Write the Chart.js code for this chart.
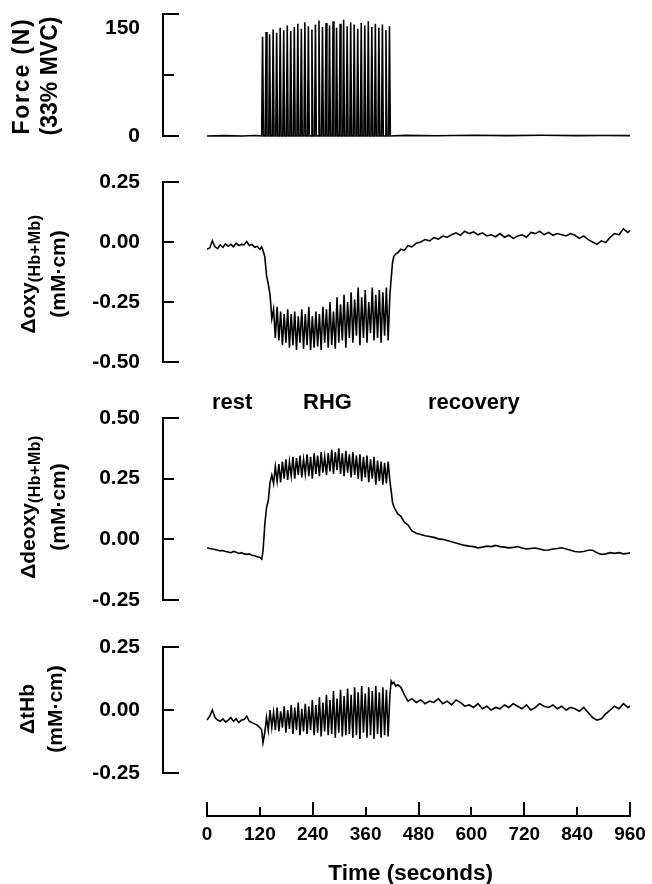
<!DOCTYPE html>
<html>
<head>
<meta charset="utf-8">
<script src="https://cdn.jsdelivr.net/npm/chart.js@4"></script>
<style>
  body { margin: 0; background: #fff; }
  #page { position: relative; width: 652px; height: 884px; overflow: hidden; font-family: "Liberation Sans", Arial, sans-serif; font-weight: bold; color: #000; }
  .panel { position: absolute; left: 0; width: 652px; }
  .ytitle { position: absolute; transform: translate(-50%, -50%) rotate(-90deg); white-space: nowrap; text-align: center; font-size: 21px; line-height: 30px; }
  .ytitle sub { font-size: 16px; vertical-align: -5px; line-height: 0; letter-spacing: 0.5px; }
  .note { position: absolute; font-size: 22px; line-height: 22px; }
</style>
</head>
<body>
<div id="page">
  <div class="panel" style="top:-30px;height:182px"><canvas id="force"></canvas></div>
  <div class="panel" style="top:160px;height:220px"><canvas id="oxy"></canvas></div>
  <div class="panel" style="top:396px;height:222px"><canvas id="deoxy"></canvas></div>
  <div class="panel" style="top:625px;height:166px"><canvas id="thb"></canvas></div>
  <div class="panel" style="top:790px;height:100px"><canvas id="axis"></canvas></div>

  <div class="ytitle" style="left:35px;top:76px;font-size:23px;line-height:28px"><span style="letter-spacing:1.8px">Force (N)</span><br>(33% MVC)</div>
  <div class="ytitle" style="left:43px;top:274px">&Delta;oxy<sub>(Hb+Mb)</sub><br>(mM·cm)</div>
  <div class="ytitle" style="left:43px;top:507px">&Delta;deoxy<sub>(Hb+Mb)</sub><br>(mM·cm)</div>
  <div class="ytitle" style="left:41px;top:709px;line-height:28px">&Delta;tHb<br>(mM·cm)</div>

  <div class="note" style="left:212px;top:391px">rest</div>
  <div class="note" style="left:303px;top:391px">RHG</div>
  <div class="note" style="left:428px;top:391px">recovery</div>
</div>
<script>
// force trace (N)
const forceTime = [
  0, 40, 80, 110,
  124, 126, 128, 132, 134, 136, 140, 142, 144, 148, 150, 152,
  156, 158, 160, 164, 166, 168, 172, 174, 176, 180, 182, 184,
  188, 190, 192, 196, 198, 200, 204, 206, 208, 212, 214, 216,
  220, 222, 224, 228, 230, 232, 236, 238, 240, 244, 246, 248,
  252, 254, 256, 260, 262, 264, 268, 270, 272, 276, 278, 280,
  284, 286, 288, 292, 294, 296, 300, 302, 304, 308, 310, 312,
  316, 318, 320, 324, 326, 328, 332, 334, 336, 340, 342, 344,
  348, 350, 352, 356, 358, 360, 364, 366, 368, 372, 374, 376,
  380, 382, 384, 388, 390, 392, 396, 398, 400, 404, 406, 408,
  412, 414, 416,
  450, 520, 600, 680, 760, 840, 900, 960
];
const forceValues = [
  0, 0.5, 0, 0.6,
  0, 122, 0, 0, 128, 0, 0, 125, 0, 0, 131, 0,
  0, 127, 0, 0, 133, 0, 0, 130, 0, 0, 136, 0,
  0, 129, 0, 0, 134, 0, 0, 138, 0, 0, 132, 0,
  0, 140, 0, 0, 135, 0, 0, 131, 0, 0, 137, 0,
  0, 142, 0, 0, 134, 0, 0, 139, 0, 0, 136, 0,
  0, 141, 0, 0, 133, 0, 0, 138, 0, 0, 143, 0,
  0, 135, 0, 0, 140, 0, 0, 137, 0, 0, 132, 0,
  0, 139, 0, 0, 136, 0, 0, 141, 0, 0, 134, 0,
  0, 138, 0, 0, 133, 0, 0, 137, 0, 0, 130, 0,
  0, 135, 0,
  0.8, 0.3, 1.0, 0.5, 0.9, 0.4, 0.7, 0.5
];

// NIRS sample times (s), shared by the three traces below
const nirsTime = [
  // rest
  0, 6, 12, 18, 24, 30, 36, 42, 48, 54, 60, 66, 72, 78, 84, 90, 96, 102, 108, 114, 120, 124,
  // onset
  127, 131, 135, 139, 143, 147,
  // handgrip
  151, 155, 159, 163, 167, 171, 175, 179, 183, 187,
  191, 195, 199, 203, 207, 211, 215, 219, 223, 227,
  231, 235, 239, 243, 247, 251, 255, 259, 263, 267,
  271, 275, 279, 283, 287, 291, 295, 299, 303, 307,
  311, 315, 319, 323, 327, 331, 335, 339, 343, 347,
  351, 355, 359, 363, 367, 371, 375, 379, 383, 387,
  391, 395, 399, 403, 407, 411, 415,
  // release
  418, 421, 424, 428, 433, 440, 448, 456, 465, 475,
  // recovery
  485, 495, 505, 515, 525, 535, 545, 555, 565, 575,
  585, 595, 605, 615, 625, 635, 645, 655, 665, 675,
  685, 695, 705, 715, 725, 735, 745, 755, 765, 775,
  785, 795, 805, 815, 825, 835, 845, 855, 865, 875,
  885, 895, 905, 915, 925, 935, 945, 955, 960
];

const oxyValues = [
  -0.030, -0.025, 0.005, -0.020, -0.028, -0.012, -0.022, -0.008, -0.018, -0.010, -0.020,
  -0.005, -0.015, -0.010, -0.012, 0.002, -0.015, -0.010, -0.022, -0.018, -0.030, -0.020,
  -0.035, -0.060, -0.140, -0.175, -0.220, -0.320,
  -0.280, -0.400, -0.270, -0.410, -0.290, -0.430, -0.300, -0.420, -0.280, -0.440,
  -0.300, -0.430, -0.290, -0.450, -0.310, -0.420, -0.280, -0.445, -0.300, -0.430,
  -0.270, -0.450, -0.310, -0.440, -0.290, -0.435, -0.300, -0.450, -0.270, -0.420,
  -0.280, -0.440, -0.250, -0.430, -0.290, -0.445, -0.230, -0.420, -0.260, -0.410,
  -0.220, -0.440, -0.250, -0.400, -0.210, -0.420, -0.240, -0.390, -0.190, -0.430,
  -0.230, -0.400, -0.200, -0.420, -0.250, -0.380, -0.190, -0.410, -0.220, -0.400,
  -0.200, -0.420, -0.210, -0.390, -0.190, -0.410, -0.220,
  -0.150, -0.085, -0.060, -0.050, -0.045, -0.030, -0.035, -0.015, -0.020, -0.005,
  0.000, 0.010, 0.005, 0.018, 0.012, 0.025, 0.020, 0.030, 0.038, 0.028,
  0.045, 0.035, 0.042, 0.030, 0.038, 0.025, 0.030, 0.022, 0.035, 0.020,
  0.028, 0.015, 0.025, 0.030, 0.020, 0.040, 0.035, 0.045, 0.030, 0.040,
  0.028, 0.035, 0.030, 0.025, 0.035, 0.028, 0.015, 0.025, 0.010, 0.000,
  -0.010, 0.005, -0.002, 0.020, 0.035, 0.030, 0.055, 0.040, 0.048
];

const deoxyValues = [
  -0.035, -0.038, -0.040, -0.042, -0.045, -0.048, -0.046, -0.050, -0.052, -0.055, -0.050,
  -0.053, -0.058, -0.055, -0.060, -0.062, -0.060, -0.066, -0.068, -0.072, -0.075, -0.082,
  -0.050, 0.060, 0.130, 0.160, 0.235, 0.265,
  0.230, 0.300, 0.240, 0.310, 0.235, 0.320, 0.250, 0.330, 0.245, 0.320,
  0.260, 0.340, 0.250, 0.335, 0.265, 0.345, 0.255, 0.330, 0.270, 0.350,
  0.260, 0.340, 0.250, 0.355, 0.270, 0.345, 0.260, 0.360, 0.275, 0.340,
  0.265, 0.355, 0.280, 0.370, 0.270, 0.360, 0.285, 0.375, 0.270, 0.355,
  0.260, 0.365, 0.275, 0.350, 0.255, 0.360, 0.265, 0.345, 0.250, 0.350,
  0.240, 0.340, 0.255, 0.345, 0.235, 0.330, 0.250, 0.340, 0.225, 0.325,
  0.240, 0.320, 0.225, 0.315, 0.230, 0.320, 0.240,
  0.200, 0.150, 0.135, 0.120, 0.105, 0.095, 0.070, 0.060, 0.035, 0.025,
  0.020, 0.015, 0.012, 0.008, 0.002, 0.000, -0.005, -0.010, -0.015, -0.020,
  -0.025, -0.028, -0.030, -0.035, -0.032, -0.028, -0.030, -0.025, -0.030, -0.032,
  -0.035, -0.033, -0.030, -0.036, -0.040, -0.038, -0.036, -0.040, -0.045, -0.044,
  -0.040, -0.038, -0.035, -0.040, -0.045, -0.050, -0.052, -0.050, -0.045, -0.045,
  -0.055, -0.062, -0.060, -0.055, -0.058, -0.055, -0.060, -0.058, -0.055
];

const thbValues = [
  -0.040, -0.025, 0.000, -0.030, -0.040, -0.045, -0.035, -0.048, -0.040, -0.030, -0.045,
  -0.035, -0.050, -0.040, -0.038, -0.025, -0.045, -0.050, -0.055, -0.060, -0.070, -0.080,
  -0.130, -0.090, -0.030, -0.080, 0.000, -0.070,
  -0.010, -0.080, 0.010, -0.085, -0.005, -0.070, 0.015, -0.090, 0.000, -0.075,
  0.020, -0.095, 0.010, -0.080, 0.030, -0.100, 0.005, -0.085, 0.025, -0.095,
  0.015, -0.080, 0.040, -0.100, 0.020, -0.090, 0.050, -0.105, 0.030, -0.085,
  0.060, -0.100, 0.040, -0.095, 0.075, -0.110, 0.045, -0.090, 0.080, -0.105,
  0.055, -0.100, 0.085, -0.095, 0.060, -0.110, 0.090, -0.100, 0.070, -0.115,
  0.095, -0.090, 0.065, -0.110, 0.090, -0.100, 0.075, -0.115, 0.095, -0.095,
  0.070, -0.110, 0.090, -0.100, 0.080, -0.105, 0.060,
  0.115, 0.105, 0.110, 0.095, 0.100, 0.090, 0.060, 0.035, 0.045, 0.030,
  0.040, 0.025, 0.035, 0.030, 0.045, 0.025, 0.035, 0.020, 0.040, 0.030,
  0.015, 0.020, 0.010, 0.025, 0.005, 0.015, 0.000, 0.010, 0.005, 0.020,
  0.010, 0.025, 0.015, 0.005, 0.020, 0.000, 0.010, 0.025, 0.015, 0.010,
  0.020, 0.005, 0.015, 0.000, 0.010, 0.005, -0.005, 0.010, -0.010, -0.030,
  -0.040, -0.035, -0.015, 0.000, 0.015, 0.005, 0.025, 0.010, 0.015
];

const timeTicks = [0, 120, 240, 360, 480, 600, 720, 840, 960];
const majorTimeTicks = [0, 240, 480, 720, 960];

const black = '#000';
const clear = 'rgba(0,0,0,0)';
const fam = 'Liberation Sans';

// short inward ticks: ends of each axis longer than the middle ones
function bracketDash(ctx) {
  if (!ctx.tick) return [];
  const s = ctx.scale, v = ctx.tick.value;
  const atEnd = Math.abs(v - s.min) < 1e-9 || Math.abs(v - s.max) < 1e-9;
  return atEnd ? [15, 2000] : [10, 2000];
}

function panel(id, times, values, yMin, yMax, step, pad, labelFn, lw, lineHeight) {
  const points = times.map((t, i) => ({ x: t, y: values[i] }));
  return new Chart(document.getElementById(id), {
    type: 'line',
    data: { datasets: [{ data: points, borderColor: black, borderWidth: lw, pointRadius: 0, tension: 0, clip: false }] },
    options: {
      responsive: true,
      maintainAspectRatio: false,
      animation: false,
      layout: { padding: { top: pad[0], bottom: pad[1], left: 0, right: 22 } },
      plugins: { legend: { display: false }, tooltip: { enabled: false } },
      scales: {
        x: { type: 'linear', min: -100, max: 960, display: false },
        y: {
          min: yMin,
          max: yMax,
          afterFit: s => { s.width = 163; },
          border: { display: true, color: black, width: 2, dash: bracketDash },
          // the outside tick marks are invisible, they only set the label gap
          grid: { drawTicks: true, tickLength: 23, tickColor: clear, color: black, lineWidth: 2 },
          ticks: {
            stepSize: step, padding: 0, color: black, autoSkip: false, callback: labelFn,
            font: { family: fam, size: 21, weight: 'bold', lineHeight: lineHeight }
          }
        }
      }
    }
  });
}

const fixed2 = v => v.toFixed(2);

panel('force', forceTime, forceValues, 0, 150, 75, [44, 16],
  v => v === 150 ? ['', '150'] : (v === 0 ? '0' : ''), 1.6, 1.4);
panel('oxy', nirsTime, oxyValues, -0.5, 0.25, 0.25, [22, 18], fixed2, 1.6, 1.2);
panel('deoxy', nirsTime, deoxyValues, -0.25, 0.5, 0.25, [22, 18], fixed2, 1.6, 1.2);
panel('thb', nirsTime, thbValues, -0.25, 0.25, 0.25, [22, 18], fixed2, 1.6, 1.2);

// shared time axis, ticks pointing up into a 14 px strip
new Chart(document.getElementById('axis'), {
  type: 'line',
  data: { datasets: [] },
  options: {
    responsive: true,
    maintainAspectRatio: false,
    animation: false,
    layout: { padding: { top: 12, bottom: 0, left: 207, right: 22 } },
    plugins: { legend: { display: false }, tooltip: { enabled: false } },
    scales: {
      x: {
        type: 'linear',
        min: 0,
        max: 960,
        afterBuildTicks: s => { s.ticks = timeTicks.map(v => ({ value: v })); },
        afterFit: s => { s.height = 74; },
        border: { display: true, color: black, width: 2,
          dash: ctx => (!ctx.tick || majorTimeTicks.includes(ctx.tick.value)) ? [] : [0, 5, 20] },
        grid: { drawTicks: true, tickLength: 7, tickColor: clear, color: black, lineWidth: 2 },
        ticks: { padding: 0, color: black, font: { family: fam, size: 19, weight: 'bold' }, autoSkip: false, maxRotation: 0 },
        // trailing en + thin space nudge the centred title a little to the left
        title: { display: true, text: 'Time (seconds)\u2002\u2009', color: black, font: { family: fam, size: 22.5, weight: 'bold' }, padding: { top: 0, bottom: 3 } }
      },
      y: { display: false, min: 0, max: 1 }
    }
  }
});
</script>
</body>
</html>
